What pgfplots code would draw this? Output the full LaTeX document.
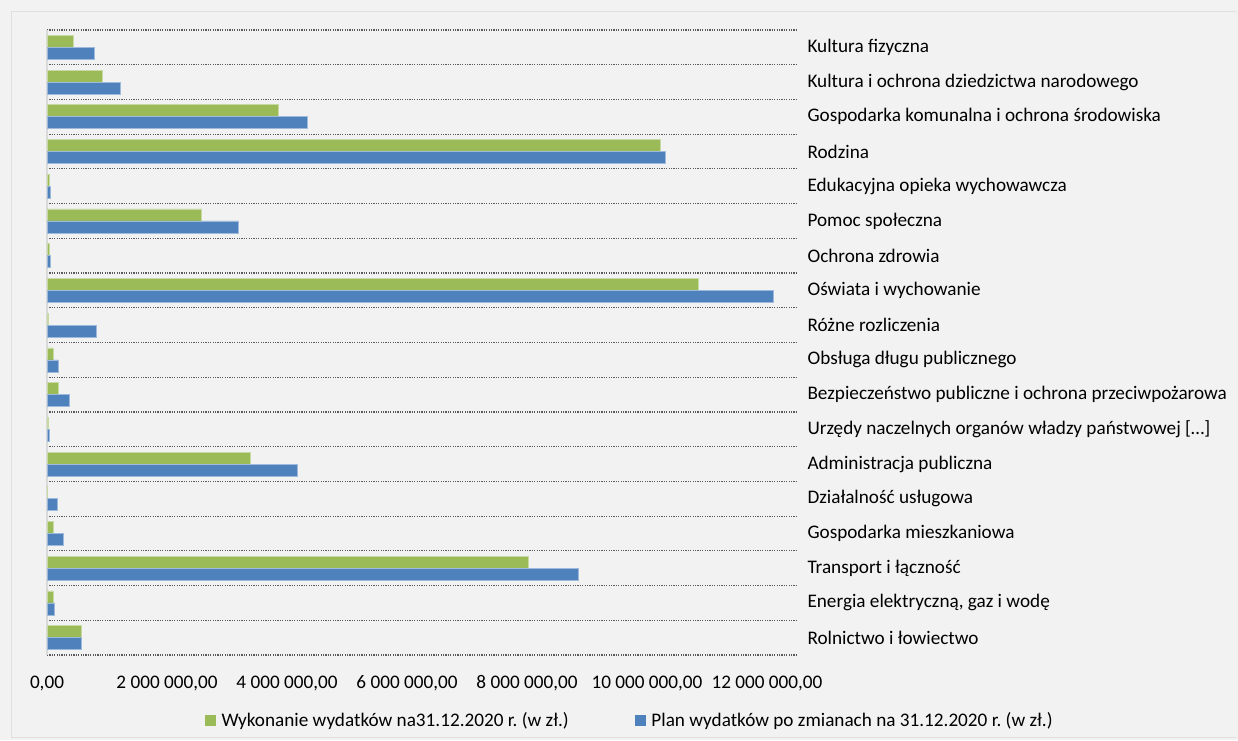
\documentclass[border=0pt]{standalone}
\usepackage{fontspec}
\setmainfont{Carlito}
\usepackage{pgfplots}
\usepackage{pgfplotstable}
\pgfplotsset{compat=1.18}
\definecolor{cgreen}{HTML}{9BBB59}
\definecolor{cblue}{HTML}{4F81BD}
\definecolor{bgc}{HTML}{F2F2F2}
\definecolor{gridc}{HTML}{595959}
\newcommand\fz{\fontsize{19.2}{23}\selectfont}
\frenchspacing

\pgfplotstableread{
y green blue
0 580000 570000
1 100000 130000
2 8020000 8860000
3 100000 280000
4 10000 170000
5 3390000 4170000
6 15000 40000
7 190000 380000
8 100000 190000
9 30000 820000
10 10850000 12100000
11 40000 60000
12 2580000 3190000
13 40000 60000
14 10220000 10300000
15 3860000 4340000
16 920000 1230000
17 440000 790000
}\data

\begin{document}
\begin{tikzpicture}[font=\fz]
\fill[bgc] (0pt,0pt) rectangle (1238pt,740pt);
\useasboundingbox (0pt,0pt) rectangle (1238pt,740pt);
\clip (0pt,0pt) rectangle (1236pt,740pt);
\draw[gray!25, line width=1pt] (11.5pt,2.5pt) rectangle (1236pt,728pt);
\begin{axis}[
  at={(47pt,85pt)}, anchor=south west,
  scale only axis, width=750pt, height=625pt,
  xmin=0, xmax=12500000, ymin=-0.5, ymax=17.5,
  scaled x ticks=false,
  xtick={0,2000000,4000000,6000000,8000000,10000000,12000000},
  xticklabels={{0,00},{2~000~000,00},{4~000~000,00},{6~000~000,00},{8~000~000,00},{10~000~000,00},{12~000~000,00}},
  xticklabel style={font=\fz, yshift=-17pt},
  ytick={0,...,17},
  yticklabels={
    {Rolnictwo i łowiectwo},
    {Energia elektryczną, gaz i wodę},
    {Transport i łączność},
    {Gospodarka mieszkaniowa},
    {Działalność usługowa},
    {Administracja publiczna},
    {Urzędy naczelnych organów władzy państwowej […]},
    {Bezpieczeństwo publiczne i ochrona przeciwpożarowa},
    {Obsługa długu publicznego},
    {Różne rozliczenia},
    {Oświata i wychowanie},
    {Ochrona zdrowia},
    {Pomoc społeczna},
    {Edukacyjna opieka wychowawcza},
    {Rodzina},
    {Gospodarka komunalna i ochrona środowiska},
    {Kultura i ochrona dziedzictwa narodowego},
    {Kultura fizyczna}},
  yticklabel pos=right,
  yticklabel style={font=\fz, anchor=west, xshift=7pt},
  minor ytick={-0.5,0.5,...,17.5},
  yminorgrids=true, ymajorgrids=false,
  minor grid style={gridc, line width=1.2pt, dash pattern=on 1.2pt off 1.2pt},
  major tick length=0pt, minor tick length=0pt,
  axis line style={draw=none},
  extra x ticks={0}, extra x tick labels={},
  extra x tick style={grid=major, major grid style={gray!30, line width=1.5pt}},
  legend columns=2,
  legend style={draw=none, fill=none, font=\fz, at={(0.777,-0.104)}, anchor=center,
    /tikz/every even column/.append style={column sep=64pt}},
  legend cell align=left,
  clip=false,
]
\addplot[xbar, bar shift=6pt, bar width=12pt, fill=cgreen, draw=cgreen!55!white, line width=0.7pt,
  legend image code/.code={\fill[cgreen] (0pt,-5pt) rectangle (10pt,5pt); \path (14pt,0pt);}]
  table[x=green, y=y]{\data};
\addlegendentry{Wykonanie wydatków na31.12.2020 r. (w zł.)}
\addplot[xbar, bar shift=-6pt, bar width=12pt, fill=cblue, draw=cblue!55!white, line width=0.7pt,
  legend image code/.code={\fill[cblue] (0pt,-5pt) rectangle (10pt,5pt); \path (14pt,0pt);}]
  table[x=blue, y=y]{\data};
\addlegendentry{Plan wydatków po zmianach na 31.12.2020 r. (w zł.)}
\end{axis}
\end{tikzpicture}
\end{document}
